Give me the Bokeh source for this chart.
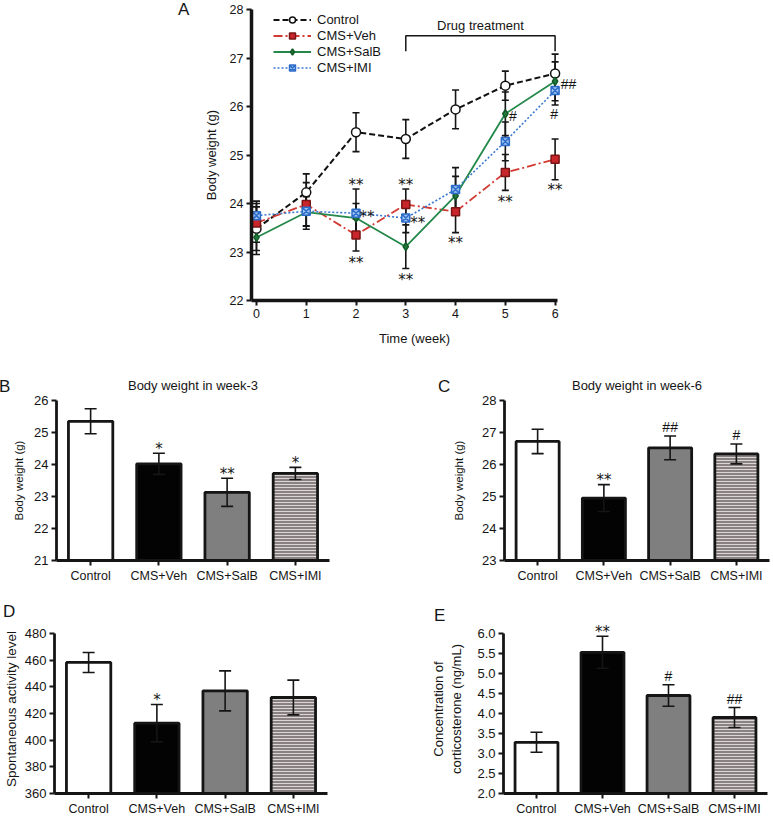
from bokeh.plotting import figure
from bokeh.layouts import column, row
from bokeh.models import (ColumnDataSource, Whisker, TeeHead, Legend, LegendItem, Div,
                          FixedTicker, Range1d, FactorRange, NumeralTickFormatter)
from bokeh.embed import file_html
from bokeh.resources import INLINE
from bokeh.core.properties import value

FONT = "Liberation Sans"
STAR_FONT = "DejaVu Sans"
INK = "#151515"

# ---------------- data: panel A (body weight over time) ----------------
weeks = [0, 1, 2, 3, 4, 5, 6]
control = [23.48, 24.23, 25.47, 25.33, 25.94, 26.43, 26.68]
control_err = [0.45, 0.38, 0.40, 0.40, 0.40, 0.30, 0.40]
cms_veh = [23.60, 23.98, 23.35, 23.98, 23.83, 24.64, 24.91]
cms_veh_err = [0.40, 0.45, 0.33, 0.32, 0.43, 0.37, 0.42]
cms_salb = [23.30, 23.82, 23.70, 23.11, 24.16, 25.85, 26.52]
cms_salb_err = [0.35, 0.35, 0.30, 0.45, 0.40, 0.45, 0.40]
cms_imi = [23.75, 23.84, 23.80, 23.70, 24.29, 25.28, 26.33]
cms_imi_err = [0.30, 0.30, 0.50, 0.30, 0.45, 0.40, 0.30]

a_sig_x = [2, 2.22, 2, 3, 3.24, 3, 4, 5.15, 5, 6.27, 5.98, 6]
a_sig_y = [24.45, 23.80, 22.85, 24.45, 23.67, 22.50, 23.25, 25.80, 24.10, 26.47, 25.85, 24.35]
a_sig_t = ["**", "**", "**", "**", "**", "**", "**", "#", "**", "##", "#", "**"]

bracket_x = [3, 3, 6, 6]
bracket_y = [27.14, 27.46, 27.46, 27.14]
bracket_label = "Drug treatment"
bracket_label_xy = (4.5, 27.68)

# ---------------- data: bar panels ----------------
groups = ["Control", "CMS+Veh", "CMS+SalB", "CMS+IMI"]

bw_week3 = [25.35, 24.02, 23.13, 23.72]
bw_week3_err = [0.39, 0.33, 0.44, 0.19]
bw_week3_sig = ["", "*", "**", "*"]

bw_week6 = [26.72, 24.95, 26.52, 26.33]
bw_week6_err = [0.38, 0.42, 0.37, 0.31]
bw_week6_sig = ["", "**", "##", "#"]

activity = [458.3, 412.7, 437.0, 432.0]
activity_err = [7.5, 14.0, 15.0, 13.0]
activity_sig = ["", "*", "", ""]

cort = [3.28, 5.53, 4.45, 3.90]
cort_err = [0.25, 0.40, 0.27, 0.25]
cort_sig = ["", "**", "#", "##"]

BAR_FILL = ["white", "#030303", "#7f7f7f", "#8a8282"]
BAR_HATCH = [" ", " ", " ", "horizontal_line"]


def style_axes(p, axis_w, label_size, tick_size):
    p.xgrid.visible = False
    p.ygrid.visible = False
    p.outline_line_color = None
    for ax in p.axis:
        ax.axis_line_width = axis_w
        ax.axis_line_color = INK
        ax.major_tick_line_width = 2
        ax.major_tick_line_color = INK
        ax.major_tick_in = 0
        ax.major_tick_out = 5
        ax.minor_tick_line_color = None
        ax.major_label_text_font = FONT
        ax.major_label_text_font_size = tick_size
        ax.major_label_text_color = INK
        ax.major_label_standoff = 3
        ax.axis_label_text_font = FONT
        ax.axis_label_text_font_size = label_size
        ax.axis_label_text_font_style = "normal"
        ax.axis_label_text_color = INK


def sig_text(p, xs, ys, texts, ppu):
    """stars (DejaVu) are drawn slightly above their anchor, hashes centred"""
    sx = [x for x, t in zip(xs, texts) if "*" in t]
    sy = [y - 3.5 / ppu for y, t in zip(ys, texts) if "*" in t]
    st = [t for t in texts if "*" in t]
    hx = [x for x, t in zip(xs, texts) if "#" in t]
    hy = [y for y, t in zip(ys, texts) if "#" in t]
    ht = [t for t in texts if "#" in t]
    if st:
        p.text(x=sx, y=sy, text=st, text_font=value(STAR_FONT), text_font_size="15px",
               text_color=INK, text_align="center", text_baseline="middle")
    if ht:
        p.text(x=hx, y=hy, text=ht, text_font=value(FONT), text_font_size="14px",
               text_color=INK, text_align="center", text_baseline="middle")


def letter_div(width, height, items):
    spans = "".join(
        f'<span style="position:absolute;left:{x}px;top:{y}px;font-family:\'Liberation Sans\',Arial,sans-serif;'
        f'font-size:17px;line-height:17px;color:{INK};">{t}</span>' for t, x, y in items)
    html = f'<div style="position:relative;width:{width}px;height:{height}px;overflow:visible;">{spans}</div>'
    return Div(text=html, width=width, height=height, margin=0)


# ---------------- panel A ----------------
A_X0, A_X1 = -0.1, 6.45
A_FW, A_FH = 326, 291
pa = figure(x_range=Range1d(A_X0, A_X1), y_range=Range1d(22, 28),
            frame_width=A_FW, frame_height=A_FH,
            min_border_left=51, min_border_right=195, min_border_top=9, min_border_bottom=68,
            output_backend="svg", toolbar_location=None)
style_axes(pa, 3.5, "13px", "12.5px")
pa.xaxis.ticker = FixedTicker(ticks=weeks)
pa.xaxis.bounds = (A_X0, 6.04)
pa.yaxis.ticker = FixedTicker(ticks=[22, 23, 24, 25, 26, 27, 28])
pa.xaxis.axis_label = "Time (week)"
pa.yaxis.axis_label = "Body weight (g)"
pa.xaxis.axis_label_standoff = 10
pa.yaxis.axis_label_standoff = 8

series = [
    ("Control", control, control_err, "#111111", "6 3", 2.0, "circle", 9, "white", "#111111"),
    ("CMS+Veh", cms_veh, cms_veh_err, "#d23a32", "9 3 2 3", 1.8, "square", 8, "#c8262a", "#7a1414"),
    ("CMS+SalB", cms_salb, cms_salb_err, "#23884a", "solid", 1.8, "diamond", 8, "#1f7a3c", "#145a28"),
    ("CMS+IMI", cms_imi, cms_imi_err, "#3a7ad0", "2 2", 1.6, "square_x", 8, "#9cc4f2", "#2d6cc8"),
]

items = []
for name, vals, errs, col, dash, lw, mk, sz, fc, lc in series:
    src = ColumnDataSource(dict(x=weeks, y=vals,
                                upper=[v + e for v, e in zip(vals, errs)],
                                lower=[v - e for v, e in zip(vals, errs)]))
    w = Whisker(source=src, base="x", upper="upper", lower="lower", line_color=INK, line_width=1.6,
                upper_head=TeeHead(size=7, line_width=1.6, line_color=INK),
                lower_head=TeeHead(size=7, line_width=1.6, line_color=INK), level="underlay")
    pa.add_layout(w)
    lr = pa.line("x", "y", source=src, line_color=col, line_dash=dash, line_width=lw)
    sr = pa.scatter("x", "y", source=src, marker=mk, size=sz, fill_color=fc, line_color=lc, line_width=1.5)
    items.append(LegendItem(label=name, renderers=[lr, sr]))

sig_text(pa, a_sig_x, a_sig_y, a_sig_t, A_FH / 6.0)

pa.line(bracket_x, bracket_y, line_color=INK, line_width=1.5)
pa.text(x=[bracket_label_xy[0]], y=[bracket_label_xy[1]], text=[bracket_label], text_font=value(FONT),
        text_font_size="13px", text_color=INK, text_align="center", text_baseline="middle")

LEG_H = 4 * 15 + 3 * 1
legend = Legend(items=items, label_text_font=FONT, label_text_font_size="13px", label_text_color=INK,
                glyph_width=38, glyph_height=15, label_height=15, spacing=1, padding=0, margin=0,
                label_standoff=6, background_fill_alpha=0, border_line_color=None)
legend.location = (22, A_FH - LEG_H - 3)
pa.add_layout(legend)


# ---------------- bar panels ----------------
def bar_panel(vals, errs, sig, y0, y1, ystep, ylabel, title, bl, fw, br, bt, fh, bb,
              label_size, fmt=None, label_standoff=4, extra_px=0):
    ppu = fh / (y1 - y0)
    ytop = y1 + extra_px / ppu
    p = figure(x_range=FactorRange(factors=groups), y_range=Range1d(y0, ytop),
               frame_width=fw, frame_height=fh + extra_px, min_border_left=bl, min_border_right=br,
               min_border_top=bt, min_border_bottom=bb, output_backend="svg", toolbar_location=None)
    style_axes(p, 2.8, label_size, "13px")
    n = int(round((y1 - y0) / ystep))
    p.yaxis.ticker = FixedTicker(ticks=[y0 + i * ystep for i in range(n + 1)])
    p.yaxis.bounds = (y0, y1)
    if fmt:
        p.yaxis.formatter = NumeralTickFormatter(format=fmt)
    p.yaxis.axis_label = ylabel
    p.yaxis.axis_label_standoff = label_standoff
    p.xaxis.major_label_standoff = 3
    p.xaxis.major_label_text_font_size = "12.5px"
    src = ColumnDataSource(dict(x=groups, top=vals,
                                upper=[v + e for v, e in zip(vals, errs)],
                                lower=[v - e for v, e in zip(vals, errs)],
                                fillc=BAR_FILL, hpat=BAR_HATCH))
    p.vbar(x="x", top="top", bottom=y0, width=0.65, source=src, fill_color="fillc",
           line_color=INK, line_width=2.8, hatch_pattern="hpat", hatch_color="#dcd7d7",
           hatch_scale=3, hatch_weight=1)
    w = Whisker(source=src, base="x", upper="upper", lower="lower", line_color=INK, line_width=1.6,
                upper_head=TeeHead(size=12, line_width=1.6, line_color=INK),
                lower_head=TeeHead(size=12, line_width=1.6, line_color=INK), level="annotation")
    p.add_layout(w)
    ys = [v + e + (8.0 if "*" in s else 9.0) / ppu for v, e, s in zip(vals, errs, sig)]
    sig_text(p, groups, ys, sig, ppu)
    if title:
        p.title.text = title
        p.title.align = "center"
        p.title.text_font = FONT
        p.title.text_font_size = "13px"
        p.title.text_font_style = "normal"
        p.title.text_color = INK
        p.title.standoff = 15
    return p


pb = bar_panel(bw_week3, bw_week3_err, bw_week3_sig, 21, 26, 1, "Body weight (g)",
               "Body weight in week-3", 42, 273, 61, 32, 160, 38, "11.5px", label_standoff=6)
pc = bar_panel(bw_week6, bw_week6_err, bw_week6_sig, 23, 28, 1, "Body weight (g)",
               "Body weight in week-6", 54, 265, 7, 32, 160, 38, "11.5px", label_standoff=14)
pd = bar_panel(activity, activity_err, activity_sig, 360, 480, 20, "Spontaneous activity level",
               None, 52, 273, 61, 2, 160, 21, "13.5px", label_standoff=3, extra_px=9)
pe = bar_panel(cort, cort_err, cort_sig, 2.0, 6.0, 0.5, "Concentration of\ncorticosterone (ng/mL)",
               None, 115, 264, 7, 2, 160, 21, "13px", fmt="0.0", label_standoff=10, extra_px=9)

div_a = letter_div(200, 368, [("A", 178, 1)])
div_b = letter_div(10, 230, [("B", -1, 10)])
div_c = letter_div(60, 230, [("C", 48, 10)])
div_de = letter_div(772, 24, [("D", 3, 5), ("E", 434, 9)])

layout = column(row(div_a, pa), row(div_b, pb, div_c, pc), div_de, row(pd, pe))
open("out.html", "w").write(file_html(layout, INLINE))
